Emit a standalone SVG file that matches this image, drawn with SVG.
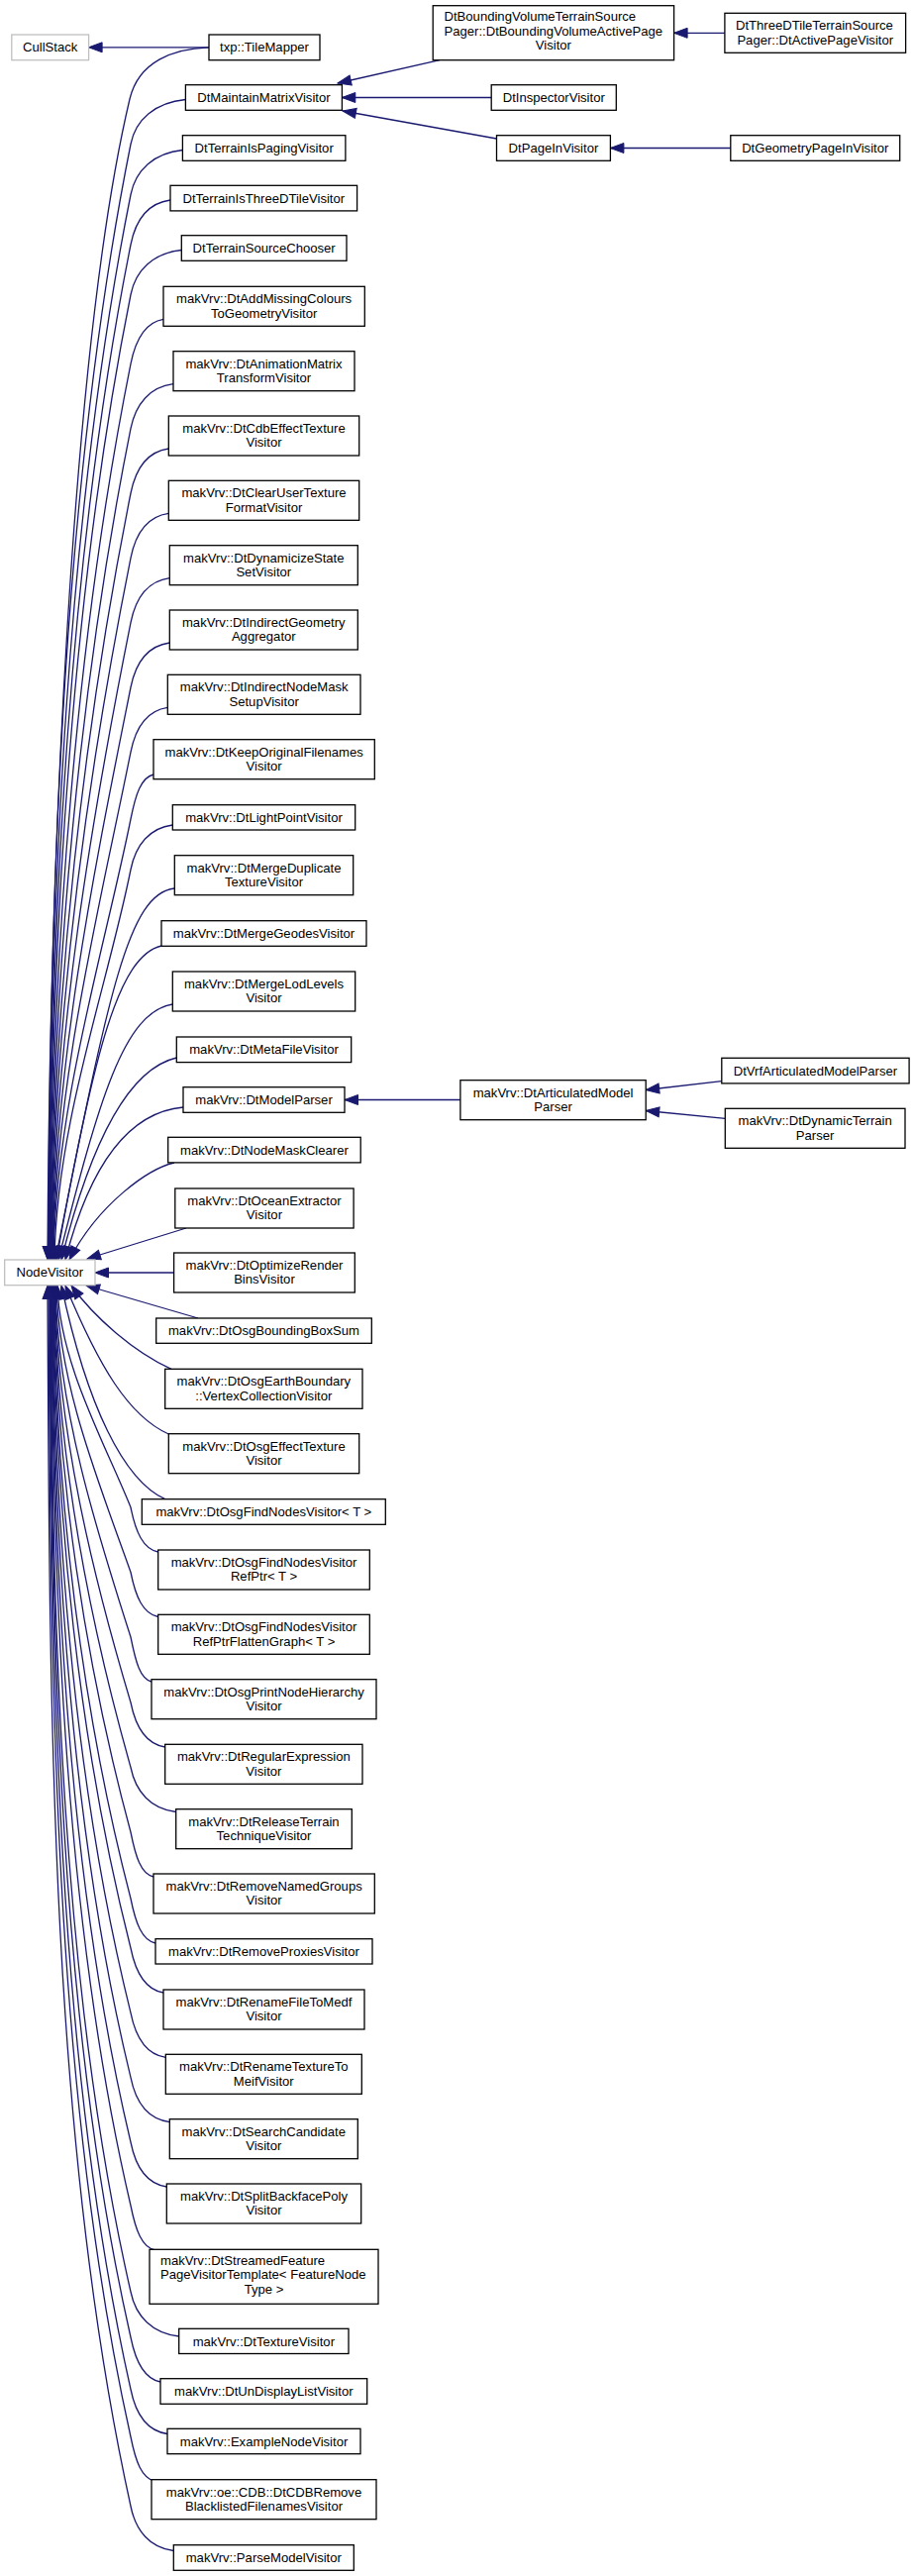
<svg xmlns="http://www.w3.org/2000/svg" width="923" height="2601" viewBox="0 0 923 2601">
<style>
.n rect{fill:#fff;stroke:#000;stroke-width:1.3}
.x rect{fill:#fff;stroke:#bfbfbf;stroke-width:1.3}
text{font-family:"Liberation Sans",Arial,Helvetica,sans-serif;font-size:13.1px;fill:#000;text-anchor:middle}
text.l{text-anchor:start}
.e path{fill:none;stroke:#191970;stroke-width:1.3;marker-end:url(#ah)}
</style>
<defs>
<marker id="ah" markerUnits="userSpaceOnUse" markerWidth="15" markerHeight="12" refX="13.5" refY="5" orient="auto" overflow="visible">
<path d="M0,0 L13.5,5 L0,10 z" fill="#191970" stroke="#191970" stroke-width="1"/>
</marker>
</defs>
<rect width="923" height="2601" fill="#fff"/>
<g id="edges" class="e">
<path d="M211,47.8 L89.6,47.8"/>
<path d="M731.9,33.3 L680.6,33.3"/>
<path d="M444,60.7 L341,84"/>
<path d="M496.2,98.5 L345.3,98.5"/>
<path d="M501.5,140 L346,112"/>
<path d="M737.8,149.5 L616.4,149.5"/>
<path d="M464.9,1110.5 L348,1110.5"/>
<path d="M728.8,1091.7 L652.2,1100.5"/>
<path d="M732.3,1129.3 L652.2,1121.5"/>
<path d="M188,1240 L88,1271"/>
<path d="M175.6,1285 L96,1285"/>
<path d="M200,1331 L87,1298"/>
<path d="M211,47.8 C175,49 140,62 131,100 C71.8,350 50,880 48,1272"/>
<path d="M187.4,100.5 C156.9,103.5 137,120.5 132,145.5 C64.4,483.5 50.5,877.7 48.5,1272"/>
<path d="M184.4,151.5 C155.6,154.5 137,171.5 132,196.5 C67.5,519.1 51,895.6 49,1272"/>
<path d="M172,202 C150,205 137,222 132,247 C70.5,554.5 51.5,913.3 49.5,1272"/>
<path d="M183.3,252.5 C155.1,255.5 137,272.5 132,297.5 C73.5,589.9 52,931.1 50,1272"/>
<path d="M165,322.3 C146.9,325.3 137,342.3 132,367.3 C77.7,638.7 52.5,955.4 50.5,1272"/>
<path d="M175,387.7 C151.4,390.7 137,407.7 132,432.7 C81.6,684.5 53,978.2 51,1272"/>
<path d="M170.3,453 C149.2,456 137,473 132,498 C85.6,730.2 53.5,1001.1 51.5,1272"/>
<path d="M170.3,518.3 C149.2,521.3 137,538.3 132,563.3 C89.5,775.9 54,1024 52,1272"/>
<path d="M171.3,583.7 C149.7,586.7 137,603.7 132,628.7 C93.4,821.7 54.5,1046.8 52.5,1272"/>
<path d="M171.3,649 C149.7,652 137,669 132,694 C97.3,867.4 55,1069.7 53,1272"/>
<path d="M169.3,714.3 C148.8,717.3 137,734.3 132,759.3 C101.2,913.1 55.5,1092.6 53.5,1272"/>
<path d="M155,782 C142.4,785 137,802 132,827 C105.2,960 56,1116 54,1272"/>
<path d="M174.3,833 C151,836 137,853 132,878 C108.4,996.2 57,1134.1 55,1272"/>
<path d="M176.3,897 C130,902 110,1000 56,1272"/>
<path d="M163,955 C120,965 95,1060 57,1272"/>
<path d="M174.3,1014 C125,1022 100,1110 59,1272"/>
<path d="M178.3,1068 C135,1078 95,1140 62,1272"/>
<path d="M185,1118 C140,1122 95,1160 66,1272"/>
<path d="M176,1174 C150,1180 100,1215 70,1272"/>
<path d="M173,1382.3 C135,1365 95,1330 72,1298"/>
<path d="M170.3,1448 C130,1430 100,1380 66,1298"/>
<path d="M166.7,1513.7 C125,1495 88,1420 62,1298"/>
<path d="M159.7,1567 C144.5,1564 137,1547 132,1522 C104.9,1454.8 60,1376.4 58,1298"/>
<path d="M159.7,1632.5 C144.5,1629.5 137,1612.5 132,1587.5 C101.4,1500.6 59,1399.3 57,1298"/>
<path d="M153,1698 C141.4,1695 137,1678 132,1653 C97.8,1546.5 58,1422.3 56,1298"/>
<path d="M166.7,1764 C147.6,1761 137,1744 132,1719 C94.3,1592.7 57.5,1445.4 55.5,1298"/>
<path d="M177.7,1829.5 C152.6,1826.5 137,1809.5 132,1784.5 C90.7,1638.5 57,1468.3 55,1298"/>
<path d="M155,1895 C142.3,1892 137,1875 132,1850 C87.2,1684.4 56.5,1491.2 54.5,1298"/>
<path d="M157,1962 C143.3,1959 137,1942 132,1917 C83.6,1731.3 56,1514.7 54,1298"/>
<path d="M165,2012 C146.8,2009 137,1992 132,1967 C80.9,1766.3 55.5,1532.2 53.5,1298"/>
<path d="M167.3,2077.3 C147.9,2074.3 137,2057.3 132,2032.3 C77.3,1812 55,1555 53,1298"/>
<path d="M171.3,2142.7 C149.7,2139.7 137,2122.7 132,2097.7 C73.8,1857.8 54.5,1577.9 52.5,1298"/>
<path d="M168.3,2208 C148.3,2205 137,2188 132,2163 C70.3,1903.5 54,1600.75 52,1298"/>
<path d="M156.7,2272 C143.2,2269 137,2252 132,2227 C66.8,1948.3 53.5,1623.2 51.5,1298"/>
<path d="M180.7,2359 C154,2356 137,2339 132,2314 C62.1,2009.2 53,1653.6 51,1298"/>
<path d="M162,2405 C145.5,2402 137,2385 132,2360 C59.7,2041.4 52.5,1669.7 50.5,1298"/>
<path d="M169,2457.5 C148.6,2454.5 137,2437.5 132,2412.5 C56.8,2078.1 52,1688 50,1298"/>
<path d="M156.7,2505.5 C143.1,2502.5 137,2485.5 132,2460.5 C54.2,2111.75 51,1704.9 49,1298"/>
<path d="M175.3,2575.5 C151.5,2572.5 137,2555.5 132,2530.5 C50.4,2160.75 50,1729.4 48,1298"/>
</g>
<g id="n-cullstack" class="x"><rect x="11.8" y="35" width="77.8" height="25.7"/><text x="50.7" y="52.4">CullStack</text></g>
<g id="n-tilemapper" class="n"><rect x="211" y="35" width="112" height="25.7"/><text x="267" y="52.4">txp::TileMapper</text></g>
<g id="n-boundingvolume" class="n"><rect x="437.2" y="5.7" width="243.4" height="55"/><text class="l" x="448.5" y="21.2">DtBoundingVolumeTerrainSource</text><text class="l" x="448.5" y="35.8">Pager::DtBoundingVolumeActivePage</text><text x="558.9" y="50.4">Visitor</text></g>
<g id="n-threedtile" class="n"><rect x="731.9" y="13.3" width="182.7" height="40"/><text class="l" x="743" y="30.1">DtThreeDTileTerrainSource</text><text x="823.25" y="44.6">Pager::DtActivePageVisitor</text></g>
<g id="n-maintainmatrix" class="n"><rect x="187.4" y="85.7" width="158" height="25.6"/><text x="266.4" y="103.1">DtMaintainMatrixVisitor</text></g>
<g id="n-inspector" class="n"><rect x="496.2" y="85.7" width="126.1" height="25.6"/><text x="559.25" y="103.1">DtInspectorVisitor</text></g>
<g id="n-pagein" class="n"><rect x="501.5" y="136.7" width="114.9" height="25.6"/><text x="558.95" y="154.1">DtPageInVisitor</text></g>
<g id="n-geometrypagein" class="n"><rect x="737.8" y="136.7" width="170.9" height="25.6"/><text x="823.25" y="154.1">DtGeometryPageInVisitor</text></g>
<g id="n-ispaging" class="n"><rect x="184.4" y="136.7" width="164.5" height="25.6"/><text x="266.65" y="154.1">DtTerrainIsPagingVisitor</text></g>
<g id="n-isthreedtile" class="n"><rect x="172" y="187.3" width="188.6" height="25.6"/><text x="266.3" y="204.7">DtTerrainIsThreeDTileVisitor</text></g>
<g id="n-sourcechooser" class="n"><rect x="183.3" y="237.7" width="166.7" height="25.6"/><text x="266.65" y="255.1">DtTerrainSourceChooser</text></g>
<g id="n-addmissing" class="n"><rect x="165" y="289.3" width="203.3" height="40"/><text x="266.65" y="306.1">makVrv::DtAddMissingColours</text><text x="266.65" y="320.6">ToGeometryVisitor</text></g>
<g id="n-animation" class="n"><rect x="175" y="354.7" width="183" height="40"/><text x="266.5" y="371.5">makVrv::DtAnimationMatrix</text><text x="266.5" y="386">TransformVisitor</text></g>
<g id="n-cdbeffect" class="n"><rect x="170.3" y="420" width="192.4" height="40"/><text x="266.5" y="436.8">makVrv::DtCdbEffectTexture</text><text x="266.5" y="451.3">Visitor</text></g>
<g id="n-clearuser" class="n"><rect x="170.3" y="485.3" width="192.4" height="40"/><text x="266.5" y="502.1">makVrv::DtClearUserTexture</text><text x="266.5" y="516.6">FormatVisitor</text></g>
<g id="n-dynamicize" class="n"><rect x="171.3" y="550.7" width="190" height="40"/><text x="266.3" y="567.5">makVrv::DtDynamicizeState</text><text x="266.3" y="582">SetVisitor</text></g>
<g id="n-indirectgeometry" class="n"><rect x="171.3" y="616" width="190" height="40"/><text x="266.3" y="632.8">makVrv::DtIndirectGeometry</text><text x="266.3" y="647.3">Aggregator</text></g>
<g id="n-indirectnodemask" class="n"><rect x="169.3" y="681.3" width="194.7" height="40"/><text x="266.65" y="698.1">makVrv::DtIndirectNodeMask</text><text x="266.65" y="712.6">SetupVisitor</text></g>
<g id="n-keeporiginal" class="n"><rect x="155" y="746.7" width="223.3" height="40"/><text x="266.65" y="763.5">makVrv::DtKeepOriginalFilenames</text><text x="266.65" y="778">Visitor</text></g>
<g id="n-lightpoint" class="n"><rect x="174.3" y="812.7" width="184.4" height="25.3"/><text x="266.5" y="829.9">makVrv::DtLightPointVisitor</text></g>
<g id="n-mergeduplicate" class="n"><rect x="176.3" y="863.7" width="180.4" height="40"/><text x="266.5" y="880.5">makVrv::DtMergeDuplicate</text><text x="266.5" y="895">TextureVisitor</text></g>
<g id="n-mergegeodes" class="n"><rect x="163" y="929.7" width="207" height="25.6"/><text x="266.5" y="947.1">makVrv::DtMergeGeodesVisitor</text></g>
<g id="n-mergelod" class="n"><rect x="174.3" y="981" width="184.4" height="40"/><text x="266.5" y="997.8">makVrv::DtMergeLodLevels</text><text x="266.5" y="1012.3">Visitor</text></g>
<g id="n-metafile" class="n"><rect x="178.3" y="1047" width="176.4" height="25.6"/><text x="266.5" y="1064.4">makVrv::DtMetaFileVisitor</text></g>
<g id="n-modelparser" class="n"><rect x="185" y="1097.7" width="163" height="25.6"/><text x="266.5" y="1115.1">makVrv::DtModelParser</text></g>
<g id="n-articulated" class="n"><rect x="464.9" y="1090.7" width="187.3" height="40"/><text x="558.55" y="1107.5">makVrv::DtArticulatedModel</text><text x="558.55" y="1122">Parser</text></g>
<g id="n-vrf" class="n"><rect x="728.8" y="1068.3" width="189.3" height="25.6"/><text x="823.45" y="1085.7">DtVrfArticulatedModelParser</text></g>
<g id="n-dynamicterrain" class="n"><rect x="732.3" y="1119.3" width="181.7" height="40"/><text x="823.15" y="1136.1">makVrv::DtDynamicTerrain</text><text x="823.15" y="1150.6">Parser</text></g>
<g id="n-nodemaskclearer" class="n"><rect x="169.7" y="1148.3" width="194.5" height="25.6"/><text x="266.95" y="1165.7">makVrv::DtNodeMaskClearer</text></g>
<g id="n-oceanextractor" class="n"><rect x="176.8" y="1200" width="180.3" height="40"/><text x="266.95" y="1216.8">makVrv::DtOceanExtractor</text><text x="266.95" y="1231.3">Visitor</text></g>
<g id="n-optimizerender" class="n"><rect x="175.6" y="1265" width="182.7" height="40"/><text x="266.95" y="1281.8">makVrv::DtOptimizeRender</text><text x="266.95" y="1296.3">BinsVisitor</text></g>
<g id="n-nodevisitor" class="x"><rect x="4.7" y="1272" width="91.3" height="25.7"/><text x="50.35" y="1289.4">NodeVisitor</text></g>
<g id="n-boundingboxsum" class="n"><rect x="157.7" y="1331" width="217.6" height="25.3"/><text x="266.5" y="1348.2">makVrv::DtOsgBoundingBoxSum</text></g>
<g id="n-osgearthboundary" class="n"><rect x="166.7" y="1382.3" width="199.3" height="40"/><text x="266.35" y="1399.1">makVrv::DtOsgEarthBoundary</text><text x="266.35" y="1413.6">::VertexCollectionVisitor</text></g>
<g id="n-osgeffecttexture" class="n"><rect x="170.3" y="1447.7" width="192.4" height="40"/><text x="266.5" y="1464.5">makVrv::DtOsgEffectTexture</text><text x="266.5" y="1479">Visitor</text></g>
<g id="n-findnodes" class="n"><rect x="143.3" y="1513.7" width="246" height="25.6"/><text x="266.3" y="1531.1">makVrv::DtOsgFindNodesVisitor&lt; T &gt;</text></g>
<g id="n-findnodesrefptr" class="n"><rect x="159.7" y="1565" width="213.6" height="40"/><text x="266.5" y="1581.8">makVrv::DtOsgFindNodesVisitor</text><text x="266.5" y="1596.3">RefPtr&lt; T &gt;</text></g>
<g id="n-flattengraph" class="n"><rect x="159.7" y="1630.3" width="213.6" height="40"/><text x="266.5" y="1647.1">makVrv::DtOsgFindNodesVisitor</text><text x="266.5" y="1661.6">RefPtrFlattenGraph&lt; T &gt;</text></g>
<g id="n-printnodehierarchy" class="n"><rect x="153" y="1695.7" width="227" height="40"/><text x="266.5" y="1712.5">makVrv::DtOsgPrintNodeHierarchy</text><text x="266.5" y="1727">Visitor</text></g>
<g id="n-regularexpression" class="n"><rect x="166.7" y="1761.3" width="199.3" height="40"/><text x="266.35" y="1778.1">makVrv::DtRegularExpression</text><text x="266.35" y="1792.6">Visitor</text></g>
<g id="n-releaseterrain" class="n"><rect x="177.7" y="1826.7" width="177.6" height="40"/><text x="266.5" y="1843.5">makVrv::DtReleaseTerrain</text><text x="266.5" y="1858">TechniqueVisitor</text></g>
<g id="n-removenamedgroups" class="n"><rect x="155" y="1892" width="223.3" height="40"/><text x="266.65" y="1908.8">makVrv::DtRemoveNamedGroups</text><text x="266.65" y="1923.3">Visitor</text></g>
<g id="n-removeproxies" class="n"><rect x="157" y="1957.7" width="219" height="25.3"/><text x="266.5" y="1974.9">makVrv::DtRemoveProxiesVisitor</text></g>
<g id="n-renamefile" class="n"><rect x="165" y="2009" width="203" height="40"/><text x="266.5" y="2025.8">makVrv::DtRenameFileToMedf</text><text x="266.5" y="2040.3">Visitor</text></g>
<g id="n-renametexture" class="n"><rect x="167.3" y="2074.3" width="198" height="40"/><text x="266.3" y="2091.1">makVrv::DtRenameTextureTo</text><text x="266.3" y="2105.6">MeifVisitor</text></g>
<g id="n-searchcandidate" class="n"><rect x="171.3" y="2139.7" width="190" height="40"/><text x="266.3" y="2156.5">makVrv::DtSearchCandidate</text><text x="266.3" y="2171">Visitor</text></g>
<g id="n-splitbackface" class="n"><rect x="168.3" y="2205" width="196.4" height="40"/><text x="266.5" y="2221.8">makVrv::DtSplitBackfacePoly</text><text x="266.5" y="2236.3">Visitor</text></g>
<g id="n-streamedfeature" class="n"><rect x="151" y="2271.3" width="231" height="55"/><text class="l" x="162" y="2286.8">makVrv::DtStreamedFeature</text><text class="l" x="162" y="2301.4">PageVisitorTemplate&lt; FeatureNode</text><text x="266.5" y="2316">Type &gt;</text></g>
<g id="n-texturevisitor" class="n"><rect x="180.7" y="2351.3" width="171.3" height="25.2"/><text x="266.35" y="2368.5">makVrv::DtTextureVisitor</text></g>
<g id="n-undisplaylist" class="n"><rect x="162" y="2401.7" width="208.7" height="25.6"/><text x="266.35" y="2419.1">makVrv::DtUnDisplayListVisitor</text></g>
<g id="n-examplenode" class="n"><rect x="169" y="2452.3" width="195" height="25.4"/><text x="266.5" y="2469.6">makVrv::ExampleNodeVisitor</text></g>
<g id="n-cdbremove" class="n"><rect x="153" y="2503.7" width="227" height="40"/><text x="266.5" y="2520.5">makVrv::oe::CDB::DtCDBRemove</text><text x="266.5" y="2535">BlacklistedFilenamesVisitor</text></g>
<g id="n-parsemodel" class="n"><rect x="175.3" y="2569.7" width="182" height="25.6"/><text x="266.3" y="2587.1">makVrv::ParseModelVisitor</text></g>
</svg>
